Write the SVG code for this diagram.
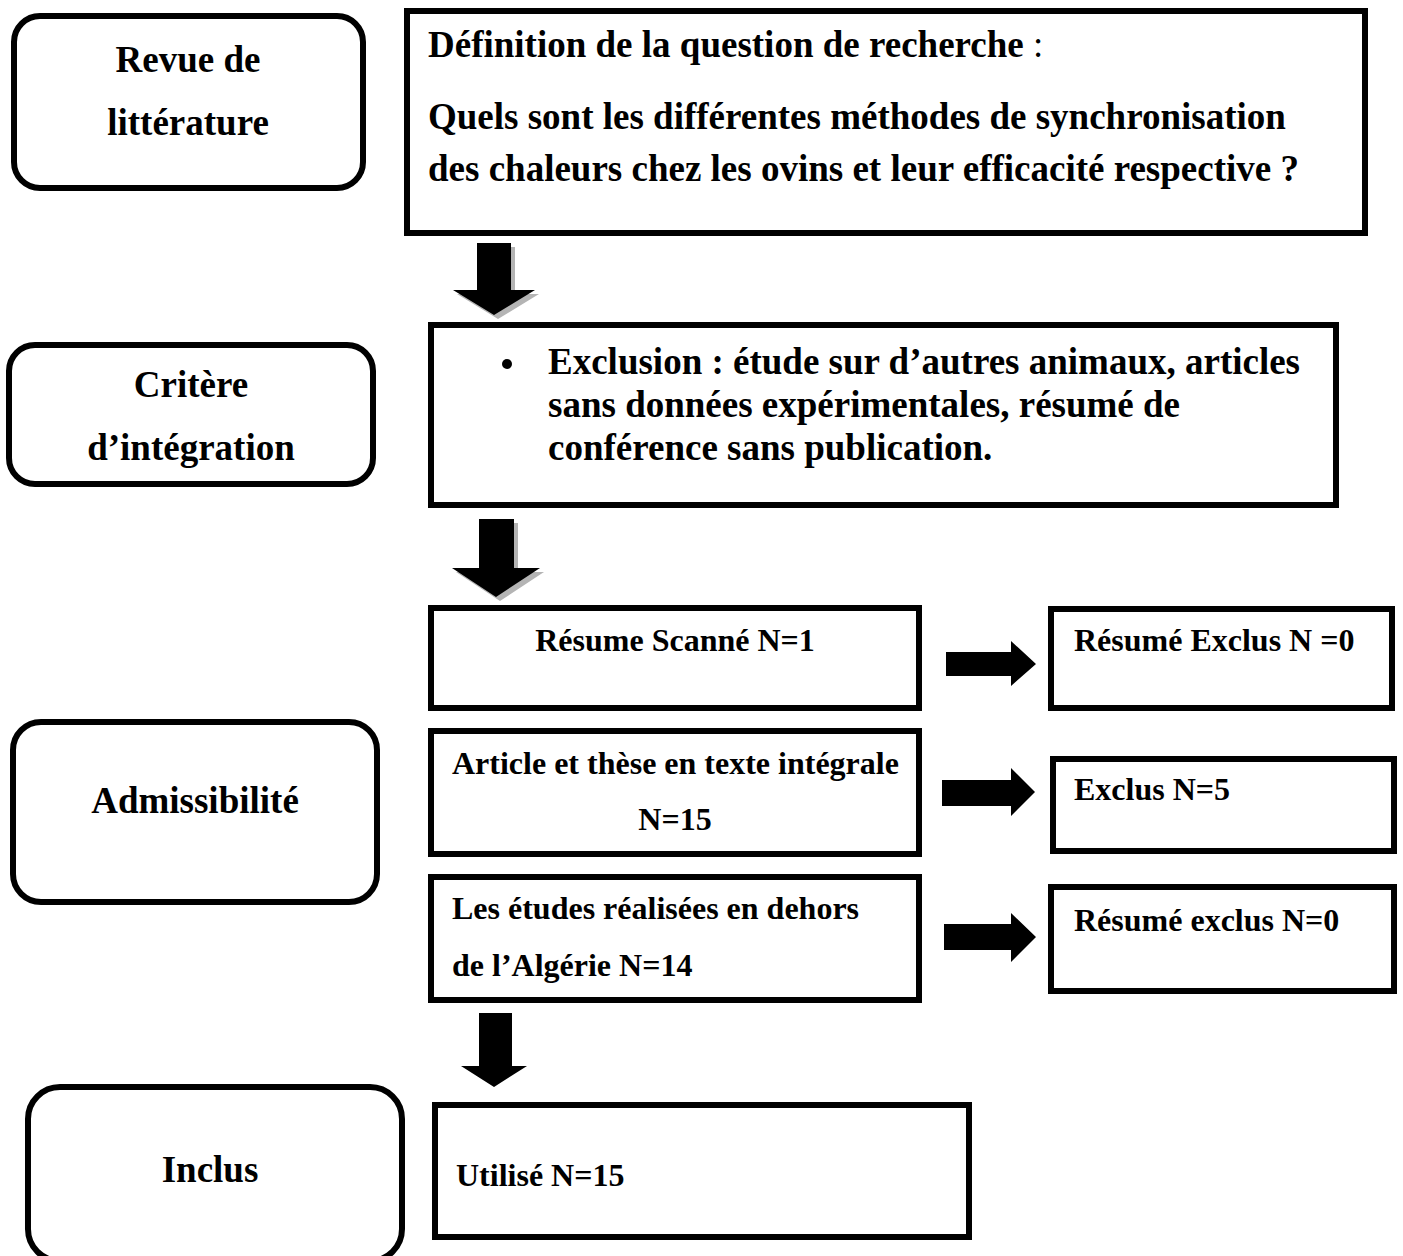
<svg xmlns="http://www.w3.org/2000/svg" width="1403" height="1256" viewBox="0 0 1403 1256">
<style>
.box{fill:#fff;stroke:#000;stroke-width:6}
.t{font-family:"Liberation Serif","Times New Roman",serif;font-weight:bold;fill:#000}
.big{font-size:37px}
.sm{font-size:32px}
.mid{text-anchor:middle}
.arr{fill:#000}
.sh{fill:#b4b4b4}
</style>
<rect width="1403" height="1256" fill="#fff"/>
<g id="node-revue">
<rect class="box" x="14" y="16" width="349" height="172" rx="26"/>
<text class="t big mid" x="188" y="72">Revue de</text>
<text class="t big mid" x="188" y="135">littérature</text>
</g>
<g id="node-question">
<rect class="box" x="407" y="11" width="958" height="222"/>
<text class="t big" x="428" y="57">Définition de la question de recherche<tspan font-weight="normal"> :</tspan></text>
<text class="t big" x="428" y="129">Quels sont les différentes méthodes de synchronisation</text>
<text class="t big" x="428" y="181">des chaleurs chez les ovins et leur efficacité respective ?</text>
</g>
<g id="node-critere">
<rect class="box" x="9" y="345" width="364" height="139" rx="26"/>
<text class="t big mid" x="191" y="397">Critère</text>
<text class="t big mid" x="191" y="460">d’intégration</text>
</g>
<g id="node-exclusion">
<rect class="box" x="431" y="325" width="905" height="180"/>
<circle cx="507" cy="364" r="5"/>
<text class="t big" x="548" y="374">Exclusion : étude sur d’autres animaux, articles</text>
<text class="t big" x="548" y="417">sans données expérimentales, résumé de</text>
<text class="t big" x="548" y="460">conférence sans publication.</text>
</g>
<g id="node-admissibilite">
<rect class="box" x="13" y="722" width="364" height="180" rx="28"/>
<text class="t big mid" x="195" y="813">Admissibilité</text>
</g>
<g id="node-scanne">
<rect class="box" x="431" y="608" width="488" height="100"/>
<text class="t sm mid" x="675" y="651">Résume Scanné N=1</text>
</g>
<g id="node-exclus0">
<rect class="box" x="1051" y="609" width="341" height="99"/>
<text class="t sm" x="1074" y="651">Résumé Exclus N =0</text>
</g>
<g id="node-article">
<rect class="box" x="431" y="731" width="488" height="123"/>
<text class="t sm" x="452" y="774">Article et thèse en texte intégrale</text>
<text class="t sm mid" x="675" y="830">N=15</text>
</g>
<g id="node-exclus5">
<rect class="box" x="1053" y="759" width="341" height="92"/>
<text class="t sm" x="1074" y="800">Exclus N=5</text>
</g>
<g id="node-etudes">
<rect class="box" x="431" y="877" width="488" height="123"/>
<text class="t sm" x="452" y="919">Les études réalisées en dehors</text>
<text class="t sm" x="452" y="976">de l’Algérie N=14</text>
</g>
<g id="node-exclus0b">
<rect class="box" x="1051" y="887" width="343" height="104"/>
<text class="t sm" x="1074" y="931">Résumé exclus N=0</text>
</g>
<g id="node-inclus">
<rect class="box" x="28" y="1087" width="374" height="174" rx="32"/>
<text class="t big mid" x="210" y="1182">Inclus</text>
</g>
<g id="node-utilise">
<rect class="box" x="435" y="1105" width="534" height="132"/>
<text class="t sm" x="456" y="1186">Utilisé N=15</text>
</g>
<g id="connectors">
<polygon class="sh" points="481,247 515,247 515,294 539,294 498,319 457,294 481,294"/>
<polygon class="arr" points="477,243 511,243 511,290 535,290 494,315 453,290 477,290"/>
<polygon class="sh" points="483,523 518,523 518,572 544,572 500,601 456,572 483,572"/>
<polygon class="arr" points="479,519 514,519 514,568 540,568 496,597 452,568 479,568"/>
<polygon class="arr" points="479,1013 512,1013 512,1066 527,1066 494,1087 461,1066 479,1066"/>
<polygon class="arr" points="946,652 1011,652 1011,641 1036,664 1011,686 1011,676 946,676"/>
<polygon class="arr" points="942,780 1011,780 1011,768 1035,792 1011,816 1011,806 942,806"/>
<polygon class="arr" points="944,924 1011,924 1011,913 1036,937 1011,962 1011,950 944,950"/>
</g>
</svg>
